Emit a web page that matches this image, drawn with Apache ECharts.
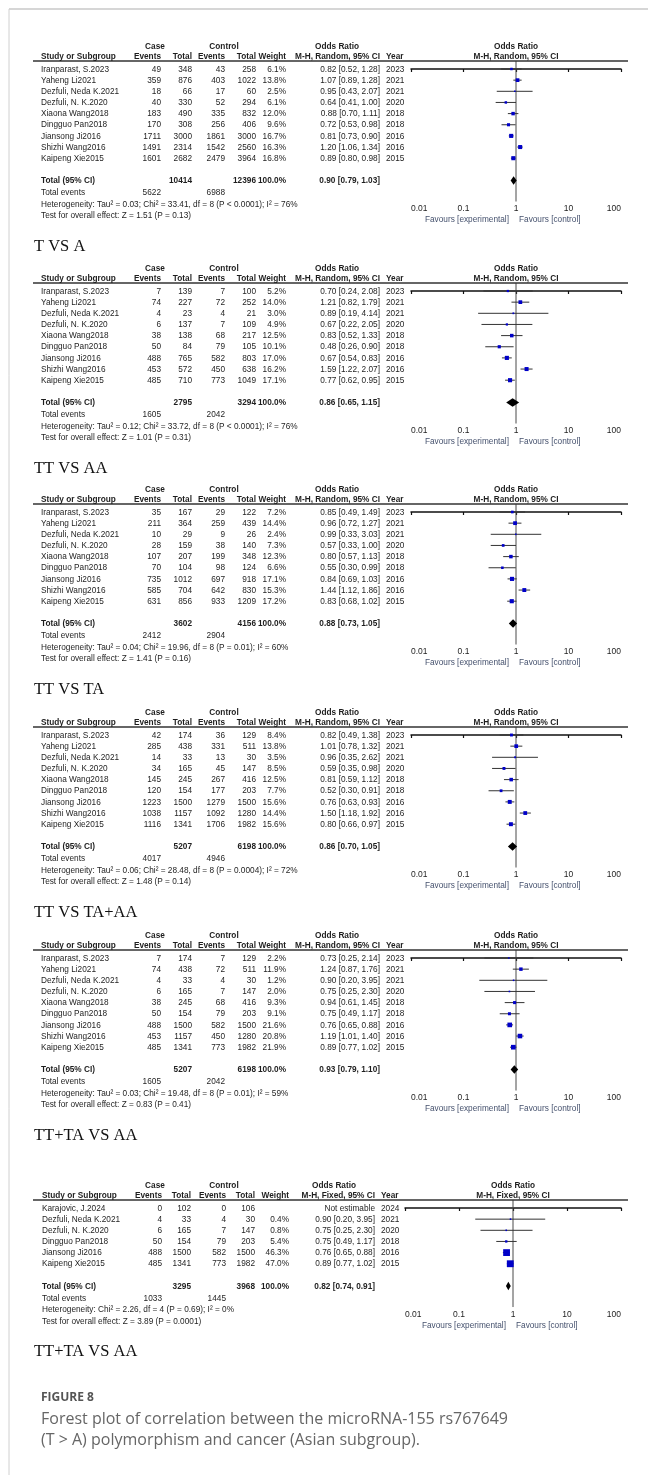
<!DOCTYPE html>
<html><head><meta charset="utf-8">
<script src="https://cdn.jsdelivr.net/npm/echarts@6/dist/echarts.min.js"></script>
<style>html,body{margin:0;padding:0;background:#fff}#c{width:648px;height:1475px}</style>
</head><body><div id="c"></div>
<script>
// ---------------- DATA ----------------
const studies9 = ["Iranparast, S.2023","Yaheng Li2021","Dezfuli, Neda K.2021","Dezfuli, N. K.2020","Xiaona Wang2018","Dingguo Pan2018","Jiansong Ji2016","Shizhi Wang2016","Kaipeng Xie2015"];
const years9 = [2023,2021,2021,2020,2018,2018,2016,2016,2015];
const studies6 = ["Karajovic, J.2024","Dezfuli, Neda K.2021","Dezfuli, N. K.2020","Dingguo Pan2018","Jiansong Ji2016","Kaipeng Xie2015"];
const years6 = [2024,2021,2020,2018,2016,2015];
const tickLabels = ["0.01","0.1","1","10","100"];
const panelTitles = ["T VS A","TT VS AA","TT VS TA","TT VS TA+AA","TT+TA VS AA","TT+TA VS AA"];

// Panel 1
const p1CaseEv = [49,359,18,40,183,170,1711,1491,1601];
const p1CaseTot = [348,876,66,330,490,308,3000,2314,2682];
const p1CtrlEv = [43,403,17,52,335,256,1861,1542,2479];
const p1CtrlTot = [258,1022,60,294,832,406,3000,2560,3964];
const p1Weight = [6.1,13.8,2.5,6.1,12.0,9.6,16.7,16.3,16.8];
const p1OR = [0.82,1.07,0.95,0.64,0.88,0.72,0.81,1.20,0.89];
const p1Lo = [0.52,0.89,0.43,0.41,0.70,0.53,0.73,1.06,0.80];
const p1Hi = [1.28,1.28,2.07,1.00,1.11,0.98,0.90,1.34,0.98];
const p1Totals = [10414,12396,5622,6988];
const p1Pooled = [0.90,0.79,1.03];
const p1Het = "Heterogeneity: Tau\u00b2 = 0.03; Chi\u00b2 = 33.41, df = 8 (P < 0.0001); I\u00b2 = 76%";
const p1Test = "Test for overall effect: Z = 1.51 (P = 0.13)";

// Panel 2
const p2CaseEv = [7,74,4,6,38,50,488,453,485];
const p2CaseTot = [139,227,23,137,138,84,765,572,710];
const p2CtrlEv = [7,72,4,7,68,79,582,450,773];
const p2CtrlTot = [100,252,21,109,217,105,803,638,1049];
const p2Weight = [5.2,14.0,3.0,4.9,12.5,10.1,17.0,16.2,17.1];
const p2OR = [0.70,1.21,0.89,0.67,0.83,0.48,0.67,1.59,0.77];
const p2Lo = [0.24,0.82,0.19,0.22,0.52,0.26,0.54,1.22,0.62];
const p2Hi = [2.08,1.79,4.14,2.05,1.33,0.90,0.83,2.07,0.95];
const p2Totals = [2795,3294,1605,2042];
const p2Pooled = [0.86,0.65,1.15];
const p2Het = "Heterogeneity: Tau\u00b2 = 0.12; Chi\u00b2 = 33.72, df = 8 (P < 0.0001); I\u00b2 = 76%";
const p2Test = "Test for overall effect: Z = 1.01 (P = 0.31)";

// Panel 3
const p3CaseEv = [35,211,10,28,107,70,735,585,631];
const p3CaseTot = [167,364,29,159,207,104,1012,704,856];
const p3CtrlEv = [29,259,9,38,199,98,697,642,933];
const p3CtrlTot = [122,439,26,140,348,124,918,830,1209];
const p3Weight = [7.2,14.4,2.4,7.3,12.3,6.6,17.1,15.3,17.2];
const p3OR = [0.85,0.96,0.99,0.57,0.80,0.55,0.84,1.44,0.83];
const p3Lo = [0.49,0.72,0.33,0.33,0.57,0.30,0.69,1.12,0.68];
const p3Hi = [1.49,1.27,3.03,1.00,1.13,0.99,1.03,1.86,1.02];
const p3Totals = [3602,4156,2412,2904];
const p3Pooled = [0.88,0.73,1.05];
const p3Het = "Heterogeneity: Tau\u00b2 = 0.04; Chi\u00b2 = 19.96, df = 8 (P = 0.01); I\u00b2 = 60%";
const p3Test = "Test for overall effect: Z = 1.41 (P = 0.16)";

// Panel 4
const p4CaseEv = [42,285,14,34,145,120,1223,1038,1116];
const p4CaseTot = [174,438,33,165,245,154,1500,1157,1341];
const p4CtrlEv = [36,331,13,45,267,177,1279,1092,1706];
const p4CtrlTot = [129,511,30,147,416,203,1500,1280,1982];
const p4Weight = [8.4,13.8,3.5,8.5,12.5,7.7,15.6,14.4,15.6];
const p4OR = [0.82,1.01,0.96,0.59,0.81,0.52,0.76,1.50,0.80];
const p4Lo = [0.49,0.78,0.35,0.35,0.59,0.30,0.63,1.18,0.66];
const p4Hi = [1.38,1.32,2.62,0.98,1.12,0.91,0.93,1.92,0.97];
const p4Totals = [5207,6198,4017,4946];
const p4Pooled = [0.86,0.70,1.05];
const p4Het = "Heterogeneity: Tau\u00b2 = 0.06; Chi\u00b2 = 28.48, df = 8 (P = 0.0004); I\u00b2 = 72%";
const p4Test = "Test for overall effect: Z = 1.48 (P = 0.14)";

// Panel 5
const p5CaseEv = [7,74,4,6,38,50,488,453,485];
const p5CaseTot = [174,438,33,165,245,154,1500,1157,1341];
const p5CtrlEv = [7,72,4,7,68,79,582,450,773];
const p5CtrlTot = [129,511,30,147,416,203,1500,1280,1982];
const p5Weight = [2.2,11.9,1.2,2.0,9.3,9.1,21.6,20.8,21.9];
const p5OR = [0.73,1.24,0.90,0.75,0.94,0.75,0.76,1.19,0.89];
const p5Lo = [0.25,0.87,0.20,0.25,0.61,0.49,0.65,1.01,0.77];
const p5Hi = [2.14,1.76,3.95,2.30,1.45,1.17,0.88,1.40,1.02];
const p5Totals = [5207,6198,1605,2042];
const p5Pooled = [0.93,0.79,1.10];
const p5Het = "Heterogeneity: Tau\u00b2 = 0.03; Chi\u00b2 = 19.48, df = 8 (P = 0.01); I\u00b2 = 59%";
const p5Test = "Test for overall effect: Z = 0.83 (P = 0.41)";

// Panel 6 (fixed effect)
const p6CaseEv = [0,4,6,50,488,485];
const p6CaseTot = [102,33,165,154,1500,1341];
const p6CtrlEv = [0,4,7,79,582,773];
const p6CtrlTot = [106,30,147,203,1500,1982];
const p6Weight = [null,0.4,0.8,5.4,46.3,47.0];
const p6OR = [null,0.90,0.75,0.75,0.76,0.89];
const p6Lo = [null,0.20,0.25,0.49,0.65,0.77];
const p6Hi = [null,3.95,2.30,1.17,0.88,1.02];
const p6Totals = [3295,3968,1033,1445];
const p6Pooled = [0.82,0.74,0.91];
const p6Het = "Heterogeneity: Chi\u00b2 = 2.26, df = 4 (P = 0.69); I\u00b2 = 0%";
const p6Test = "Test for overall effect: Z = 3.89 (P = 0.0001)";

const captionLabel = "FIGURE 8";
const captionLines = ["Forest plot of correlation between the microRNA-155 rs767649","(T > A) polymorphism and cancer (Asian subgroup)."];

// ---------------- BUILD ----------------
const panels = [
  {names:studies9, years:years9, ce:p1CaseEv, ct:p1CaseTot, ke:p1CtrlEv, kt:p1CtrlTot, w:p1Weight, or:p1OR, lo:p1Lo, hi:p1Hi, tot:p1Totals, pooled:p1Pooled, het:p1Het, test:p1Test, method:"M-H, Random, 95% CI"},
  {names:studies9, years:years9, ce:p2CaseEv, ct:p2CaseTot, ke:p2CtrlEv, kt:p2CtrlTot, w:p2Weight, or:p2OR, lo:p2Lo, hi:p2Hi, tot:p2Totals, pooled:p2Pooled, het:p2Het, test:p2Test, method:"M-H, Random, 95% CI"},
  {names:studies9, years:years9, ce:p3CaseEv, ct:p3CaseTot, ke:p3CtrlEv, kt:p3CtrlTot, w:p3Weight, or:p3OR, lo:p3Lo, hi:p3Hi, tot:p3Totals, pooled:p3Pooled, het:p3Het, test:p3Test, method:"M-H, Random, 95% CI"},
  {names:studies9, years:years9, ce:p4CaseEv, ct:p4CaseTot, ke:p4CtrlEv, kt:p4CtrlTot, w:p4Weight, or:p4OR, lo:p4Lo, hi:p4Hi, tot:p4Totals, pooled:p4Pooled, het:p4Het, test:p4Test, method:"M-H, Random, 95% CI"},
  {names:studies9, years:years9, ce:p5CaseEv, ct:p5CaseTot, ke:p5CtrlEv, kt:p5CtrlTot, w:p5Weight, or:p5OR, lo:p5Lo, hi:p5Hi, tot:p5Totals, pooled:p5Pooled, het:p5Het, test:p5Test, method:"M-H, Random, 95% CI"},
  {names:studies6, years:years6, ce:p6CaseEv, ct:p6CaseTot, ke:p6CtrlEv, kt:p6CtrlTot, w:p6Weight, or:p6OR, lo:p6Lo, hi:p6Hi, tot:p6Totals, pooled:p6Pooled, het:p6Het, test:p6Test, method:"M-H, Fixed, 95% CI"}
];

// layout (pixels)
const STEP = 11.15;
const SX = 0.87;
const colsA = {study:41, ce:161, ct:192, ke:225, kt:256, wt:286, or:380, yr:386, caseC:155, ctrlC:224, orC:337, axL:411, axR:621};
const colsB = {study:42, ce:162, ct:191, ke:226, kt:255, wt:289, or:375, yr:381, caseC:155, ctrlC:224, orC:334, axL:405, axR:621};
const panelY0 = [46, 268, 489, 712, 935, 1185];

const FONT = '"Liberation Sans", Arial, Helvetica, sans-serif';
const TXT = '#1e1e1e';
const G = [];
function txt(x, y, s, o) {
  o = o || {};
  G.push({type:'text', x:x, y:y, silent:true, z:10, scaleX:(o.sx != null ? o.sx : SX), style:{
    text:s, fill:o.color || TXT,
    font:(o.bold ? 'bold ' : '') + (o.size || 9.5) + 'px ' + (o.family || FONT),
    align:o.align || 'left', verticalAlign:'middle'
  }});
}
function hline(x1, x2, y, color, lw) {
  G.push({type:'line', silent:true, z:5, shape:{x1:x1, y1:y, x2:x2, y2:y}, style:{stroke:color, lineWidth:lw}});
}
function fmtOR(o, l, h) { return o.toFixed(2) + ' [' + l.toFixed(2) + ', ' + h.toFixed(2) + ']'; }

// card border
G.push({type:'line', silent:true, shape:{x1:9, y1:9, x2:648, y2:9}, style:{stroke:'#d6d6d6', lineWidth:2}});
G.push({type:'line', silent:true, shape:{x1:9, y1:9, x2:9, y2:1475}, style:{stroke:'#d0d0d0', lineWidth:1}});

const grids = [], xAxes = [], yAxes = [], series = [];

panels.forEach(function(P, pi) {
  const C = pi === 5 ? colsB : colsA;
  const y0 = panelY0[pi];
  const n = P.names.length;
  const rowY = function(i) { return y0 + 23 + i * STEP; };
  const ulY = y0 + 15;
  const totY = rowY(n + 1);
  const axisY = totY + 21;
  const x1 = (C.axL + C.axR) / 2;

  // headers
  txt(C.caseC, y0, 'Case', {bold:true, align:'center'});
  txt(C.ctrlC, y0, 'Control', {bold:true, align:'center'});
  txt(C.orC, y0, 'Odds Ratio', {bold:true, align:'center'});
  txt(x1, y0, 'Odds Ratio', {bold:true, align:'center'});
  const hy = y0 + 10.5;
  txt(C.study, hy, 'Study or Subgroup', {bold:true});
  txt(C.ce, hy, 'Events', {bold:true, align:'right'});
  txt(C.ct, hy, 'Total', {bold:true, align:'right'});
  txt(C.ke, hy, 'Events', {bold:true, align:'right'});
  txt(C.kt, hy, 'Total', {bold:true, align:'right'});
  txt(C.wt, hy, 'Weight', {bold:true, align:'right'});
  txt(C.or, hy, P.method, {bold:true, align:'right'});
  txt(C.yr, hy, 'Year', {bold:true});
  txt(x1, hy, P.method, {bold:true, align:'center'});
  hline(33, 628, ulY, '#333', 1.3);

  // rows
  const pts = [];
  for (let i = 0; i < n; i++) {
    const y = rowY(i);
    txt(C.study, y, P.names[i]);
    txt(C.ce, y, String(P.ce[i]), {align:'right'});
    txt(C.ct, y, String(P.ct[i]), {align:'right'});
    txt(C.ke, y, String(P.ke[i]), {align:'right'});
    txt(C.kt, y, String(P.kt[i]), {align:'right'});
    if (P.w[i] != null) {
      txt(C.wt, y, P.w[i].toFixed(1) + '%', {align:'right'});
      txt(C.or, y, fmtOR(P.or[i], P.lo[i], P.hi[i]), {align:'right'});
      pts.push([P.or[i], i, P.lo[i], P.hi[i], P.w[i]]);
    } else {
      txt(C.or, y, 'Not estimable', {align:'right'});
    }
    txt(C.yr, y, String(P.years[i]));
  }
  // totals
  txt(C.study, totY, 'Total (95% CI)', {bold:true});
  txt(C.ct, totY, String(P.tot[0]), {bold:true, align:'right'});
  txt(C.kt, totY, String(P.tot[1]), {bold:true, align:'right'});
  txt(C.wt, totY, '100.0%', {bold:true, align:'right'});
  txt(C.or, totY, fmtOR(P.pooled[0], P.pooled[1], P.pooled[2]), {bold:true, align:'right'});
  txt(C.study, totY + 12, 'Total events');
  txt(C.ce, totY + 12, String(P.tot[2]), {align:'right'});
  txt(C.ke, totY + 12, String(P.tot[3]), {align:'right'});
  txt(C.study, totY + 23.5, P.het);
  txt(C.study, totY + 35, P.test);
  // favours
  txt(x1 - 7, axisY + 18, 'Favours [experimental]', {align:'right', color:'#46526e'});
  txt(x1 + 3, axisY + 18, 'Favours [control]', {color:'#46526e'});
  // title
  txt(34, totY + 35 + 31, panelTitles[pi], {sx:1, size:16.5, family:'"Liberation Serif", "Times New Roman", serif', color:'#111'});

  // grid / axes
  grids.push({left:C.axL, top:ulY, width:C.axR - C.axL, height:axisY - ulY, containLabel:false});
  xAxes.push({
    gridIndex:pi, type:'log', logBase:10, min:0.01, max:100, position:'bottom',
    axisLine:{show:true, lineStyle:{color:'#111', width:1.5}},
    axisTick:{show:true, length:3, lineStyle:{color:'#111', width:1.2}},
    minorTick:{show:false}, splitLine:{show:false},
    axisLabel:{show:true, margin:3, fontSize:8.5, color:TXT, fontFamily:FONT,
      alignMinLabel:'left', alignMaxLabel:'right',
      formatter:function(v){ return tickLabels[Math.round(Math.log10(v)) + 2]; }}
  });
  yAxes.push({gridIndex:pi, type:'value', inverse:true, show:false,
    min:-(rowY(0) - ulY) / STEP, max:(axisY - rowY(0)) / STEP});

  // reference line at OR = 1
  series.push({type:'line', xAxisIndex:pi, yAxisIndex:pi, silent:true, symbol:'none', z:1,
    lineStyle:{color:'#4a4a4a', width:1},
    data:[[1, -(rowY(0) - ulY) / STEP], [1, (axisY - rowY(0)) / STEP]]});

  // study estimates
  series.push({type:'custom', xAxisIndex:pi, yAxisIndex:pi, silent:true, z:3,
    encode:{x:0, y:1}, data:pts,
    renderItem:function(params, api){
      const r = api.value(1);
      const pO = api.coord([api.value(0), r]);
      const pL = api.coord([api.value(2), r]);
      const pH = api.coord([api.value(3), r]);
      const s = Math.max(1.6, Math.sqrt(api.value(4)) * 1.0);
      return {type:'group', children:[
        {type:'line', shape:{x1:pL[0], y1:pL[1], x2:pH[0], y2:pH[1]}, style:{stroke:'#333', lineWidth:1}},
        {type:'rect', shape:{x:pO[0] - s/2, y:pO[1] - s/2, width:s, height:s}, style:{fill:'#0000c8'}}
      ]};
    }});

  // pooled diamond
  series.push({type:'custom', xAxisIndex:pi, yAxisIndex:pi, silent:true, z:3,
    encode:{x:0, y:1}, data:[[P.pooled[0], n + 1, P.pooled[1], P.pooled[2]]],
    renderItem:function(params, api){
      const r = api.value(1);
      const pO = api.coord([api.value(0), r]);
      const pL = api.coord([api.value(2), r]);
      const pH = api.coord([api.value(3), r]);
      const h = 4.2;
      return {type:'polygon', shape:{points:[[pL[0], pL[1]], [pO[0], pO[1] - h], [pH[0], pH[1]], [pO[0], pO[1] + h]]},
        style:{fill:'#000'}};
    }});
});

// caption
const CAPF = '"Open Sans", "Noto Sans", sans-serif';
txt(41, 1398, captionLabel, {sx:1, bold:true, size:12, family:CAPF, color:'#555'});
txt(41, 1419, captionLines[0], {sx:1, size:16, family:CAPF, color:'#666'});
txt(41, 1440, captionLines[1], {sx:1, size:16, family:CAPF, color:'#666'});

const chart = echarts.init(document.getElementById('c'), null, {renderer:'canvas'});
chart.setOption({
  animation:false,
  backgroundColor:'#fff',
  grid:grids, xAxis:xAxes, yAxis:yAxes, series:series,
  graphic:{elements:G}
});
</script></body></html>
